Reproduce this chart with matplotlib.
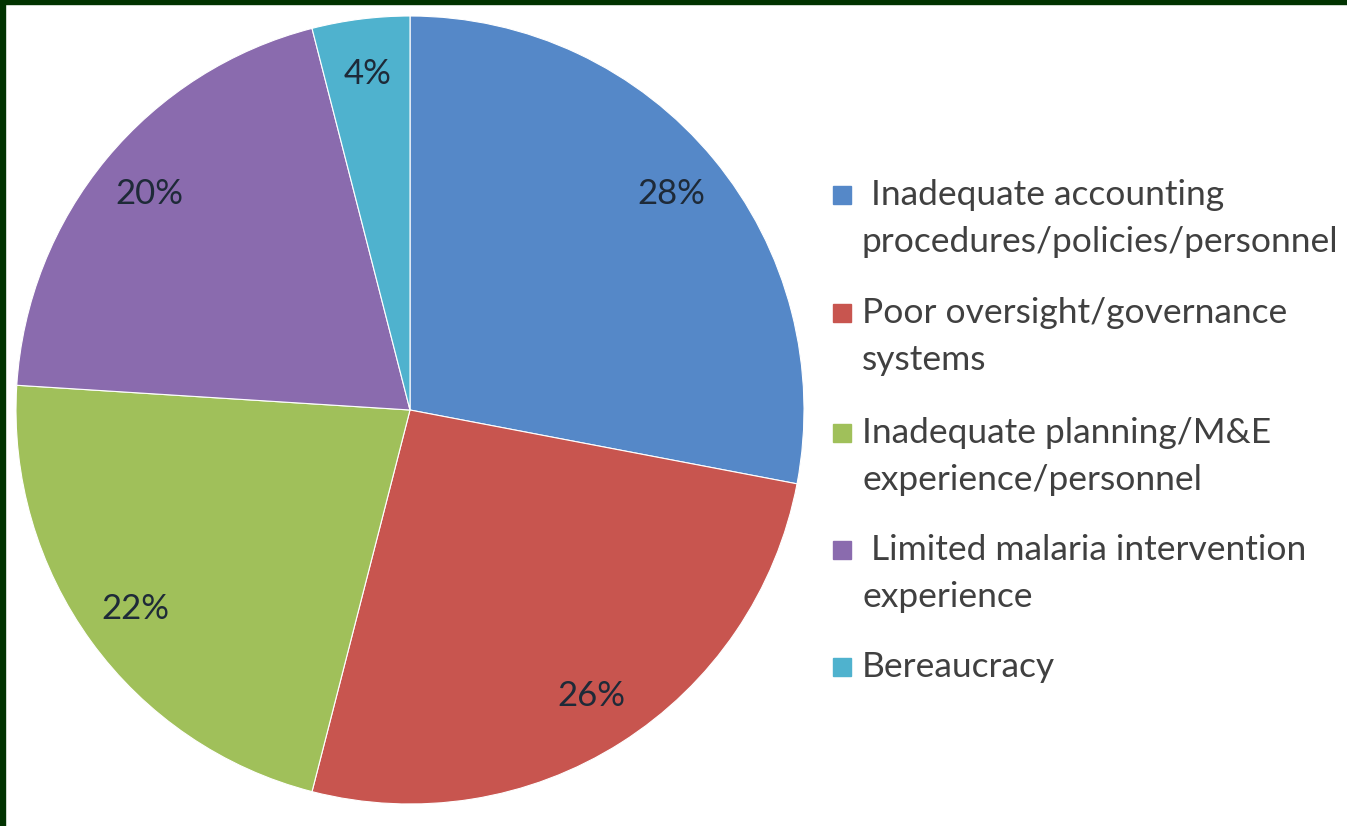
import matplotlib
matplotlib.use("Agg")
import matplotlib.pyplot as plt
from matplotlib.patches import Rectangle

categories = [
    " Inadequate accounting\nprocedures/policies/personnel",
    "Poor oversight/governance\nsystems",
    "Inadequate planning/M&E\nexperience/personnel",
    " Limited malaria intervention\nexperience",
    "Bereaucracy",
]
shares = [28, 26, 22, 20, 4]
colors = ["#5588c8", "#c8554f", "#a0c05a", "#8a6bae", "#4fb2ce"]

W, H = 1347, 826
fig = plt.figure(figsize=(W / 100, H / 100), dpi=100)
fig.patch.set_facecolor("white")

# pie axes placed in pixel terms: center (410, 410) from top-left, radius 394
cx, cy, r = 410, 410, 394
ax = fig.add_axes([(cx - r) / W, (H - cy - r) / H, 2 * r / W, 2 * r / H])
wedges, texts, autotexts = ax.pie(
    shares, colors=colors, startangle=90, counterclock=False,
    autopct="%d%%", pctdistance=0.86, radius=1,
    wedgeprops=dict(edgecolor="white", linewidth=0.8),
    textprops=dict(fontsize=25, color="#1e2a38", family="Lato"),
)
ax.set_xlim(-1, 1)
ax.set_ylim(-1, 1)
ax.set_aspect("equal")
ax.axis("off")

# legend drawn by hand so the square sits on the first line of each entry
entry_tops = [195, 313, 433, 550, 667]
line_gap = 47
for y0, label, col in zip(entry_tops, categories, colors):
    fig.patches.append(Rectangle((833 / W, (H - y0 - 9) / H), 18 / W, 18 / H,
                                 transform=fig.transFigure, color=col, zorder=3))
    for i, line in enumerate(label.split("\n")):
        fig.text(862 / W, (H - y0 - i * line_gap) / H, line, ha="left", va="center",
                 fontsize=25.5, color="#404040", family="Lato")

# dark green frame on the top and left edges
fig.patches.append(Rectangle((0, 0), 5 / W, 1, transform=fig.transFigure,
                             color="#013300", zorder=5))
fig.patches.append(Rectangle((0, 1 - 4 / H), 1, 4 / H, transform=fig.transFigure,
                             color="#013300", zorder=5))

fig.savefig("out.png", dpi=100)
